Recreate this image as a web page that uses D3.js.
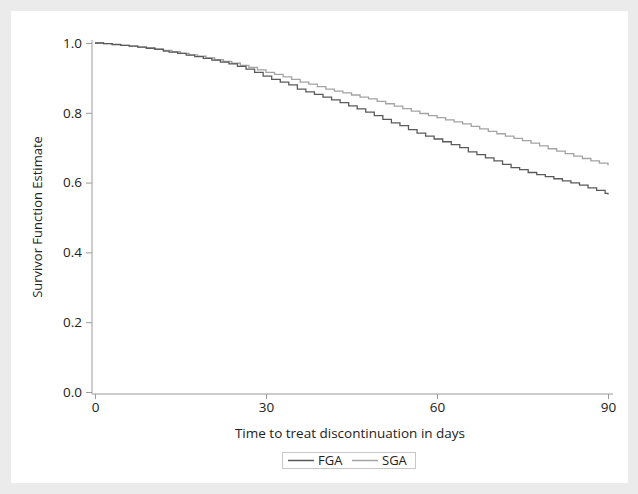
<!DOCTYPE html>
<html>
<head>
<meta charset="utf-8">
<script src="https://cdn.jsdelivr.net/npm/d3@7"></script>
<style>
  html, body { margin: 0; padding: 0; background: #ebebeb; }
  svg { display: block; font-family: 'Open Sans', sans-serif; }
</style>
</head>
<body>
<svg id="chart" width="638" height="494"></svg>
<script>
  'use strict';

  // Kaplan-Meier step points [day, survival]
  var fgaSteps = [
    [0, 1.000], [1.5, 0.998], [3, 0.996], [4.5, 0.993], [6, 0.991], [7.5, 0.988],
    [9, 0.985], [10.5, 0.982], [12, 0.977], [13, 0.974], [14.5, 0.970], [16, 0.965],
    [17.5, 0.961], [19, 0.956], [20.5, 0.951], [22, 0.945], [23.5, 0.940], [25, 0.933],
    [26.5, 0.925], [28, 0.916], [29.5, 0.905], [31, 0.896], [32.5, 0.888], [34, 0.880],
    [35.5, 0.868], [37, 0.860], [38.5, 0.853], [40, 0.845], [41.5, 0.837], [43, 0.829],
    [44.5, 0.820], [46, 0.811], [47.5, 0.802], [49, 0.792], [50.5, 0.781], [52, 0.771],
    [53.5, 0.763], [55, 0.752], [56.5, 0.742], [58, 0.733], [59.5, 0.725], [61, 0.717],
    [62.5, 0.709], [64, 0.700], [65.5, 0.688], [67, 0.680], [68.5, 0.671], [70, 0.662],
    [71.5, 0.652], [73, 0.643], [74.5, 0.637], [76, 0.629], [77.5, 0.623], [79, 0.617],
    [80.5, 0.611], [82, 0.605], [83.5, 0.599], [85, 0.593], [86.5, 0.585], [88, 0.578],
    [89.5, 0.569], [90, 0.566]
  ];
  var sgaSteps = [
    [0, 1.000], [1.5, 0.998], [3, 0.995], [4.5, 0.993], [6, 0.991], [7.5, 0.988],
    [9, 0.986], [10.5, 0.983], [12, 0.979], [13.5, 0.975], [15, 0.970], [16.5, 0.966],
    [18, 0.962], [19.5, 0.957], [21, 0.952], [22.5, 0.947], [24, 0.942], [25.5, 0.936],
    [27, 0.930], [28.5, 0.923], [30, 0.916], [31.5, 0.910], [33, 0.903], [34.5, 0.896],
    [36, 0.888], [37.5, 0.882], [39, 0.875], [40.5, 0.868], [42, 0.862], [43.5, 0.857],
    [45, 0.851], [46.5, 0.845], [48, 0.840], [49.5, 0.833], [51, 0.826], [52.5, 0.819],
    [54, 0.812], [55.5, 0.805], [57, 0.798], [58.5, 0.792], [60, 0.786], [61.5, 0.780],
    [63, 0.774], [64.5, 0.768], [66, 0.761], [67.5, 0.754], [69, 0.747], [70.5, 0.740],
    [72, 0.733], [73.5, 0.727], [75, 0.720], [76.5, 0.713], [78, 0.705], [79.5, 0.697],
    [81, 0.690], [82.5, 0.683], [84, 0.676], [85.5, 0.669], [87, 0.662], [88.5, 0.656],
    [90, 0.650]
  ];
  var seriesNames = ['FGA', 'SGA'];
  var seriesColors = ['#5a5a5a', '#a3a3a3'];
  var xTicks = [0, 30, 60, 90];
  var yTicks = [0, 0.2, 0.4, 0.6, 0.8, 1.0];

  var svg = d3.select('#chart');
  var axisColor = '#9b9b9b';

  svg.append('rect')
    .attr('x', 11).attr('y', 11)
    .attr('width', 617).attr('height', 472)
    .attr('fill', '#ffffff');

  var x = d3.scaleLinear().domain([0, 90]).range([95, 608]);
  var y = d3.scaleLinear().domain([0, 1]).range([392, 43]);

  // axes
  var xAxis = svg.append('g')
    .attr('transform', 'translate(0,394)')
    .call(d3.axisBottom(x).tickValues(xTicks).tickFormat(d3.format('d')).tickSize(5).tickSizeOuter(0));
  var yAxis = svg.append('g')
    .attr('transform', 'translate(92,0)')
    .call(d3.axisLeft(y).tickValues(yTicks).tickFormat(d3.format('.1f')).tickSize(6).tickSizeOuter(0));

  [xAxis, yAxis].forEach(function($a) {
    $a.select('.domain').remove();
    $a.selectAll('.tick line').attr('stroke', axisColor);
    $a.selectAll('.tick text')
      .attr('fill', '#222')
      .style('font-size', '13.5px')
      .style('font-family', "'Open Sans', sans-serif");
  });
  yAxis.selectAll('.tick text').attr('x', -10);
  xAxis.selectAll('.tick text').attr('y', 8);

  svg.append('line')
    .attr('x1', 92).attr('x2', 613).attr('y1', 394).attr('y2', 394)
    .attr('stroke', axisColor);
  svg.append('line')
    .attr('x1', 92).attr('x2', 92).attr('y1', 40).attr('y2', 394)
    .attr('stroke', axisColor);

  svg.append('text')
    .attr('x', 350).attr('y', 438)
    .attr('text-anchor', 'middle')
    .attr('fill', '#222')
    .style('font-size', '13.5px')
    .text('Time to treat discontinuation in days');

  svg.append('text')
    .attr('transform', 'translate(42,217) rotate(-90)')
    .attr('text-anchor', 'middle')
    .attr('fill', '#222')
    .style('font-size', '13px')
    .text('Survivor Function Estimate');

  // curves
  var line = d3.line()
    .x(function(d) { return x(d[0]); })
    .y(function(d) { return y(d[1]); })
    .curve(d3.curveStepAfter);

  [sgaSteps, fgaSteps].forEach(function(steps, i) {
    svg.append('path')
      .datum(steps)
      .attr('d', line)
      .attr('fill', 'none')
      .attr('stroke', seriesColors[1 - i])
      .attr('stroke-width', 1.3);
  });

  // legend
  var $legend = svg.append('g');
  $legend.append('rect')
    .attr('x', 282.5).attr('y', 452.5)
    .attr('width', 133).attr('height', 16)
    .attr('fill', '#fff')
    .attr('stroke', '#c8c8c8');
  var legendX = [288, 352];
  seriesNames.forEach(function(name, i) {
    $legend.append('line')
      .attr('x1', legendX[i]).attr('x2', legendX[i] + 26)
      .attr('y1', 460.5).attr('y2', 460.5)
      .attr('stroke', seriesColors[i])
      .attr('stroke-width', 1.5);
    $legend.append('text')
      .attr('x', legendX[i] + 30).attr('y', 465)
      .attr('fill', '#222')
      .style('font-size', '13px')
      .text(name);
  });
</script>
</body>
</html>
